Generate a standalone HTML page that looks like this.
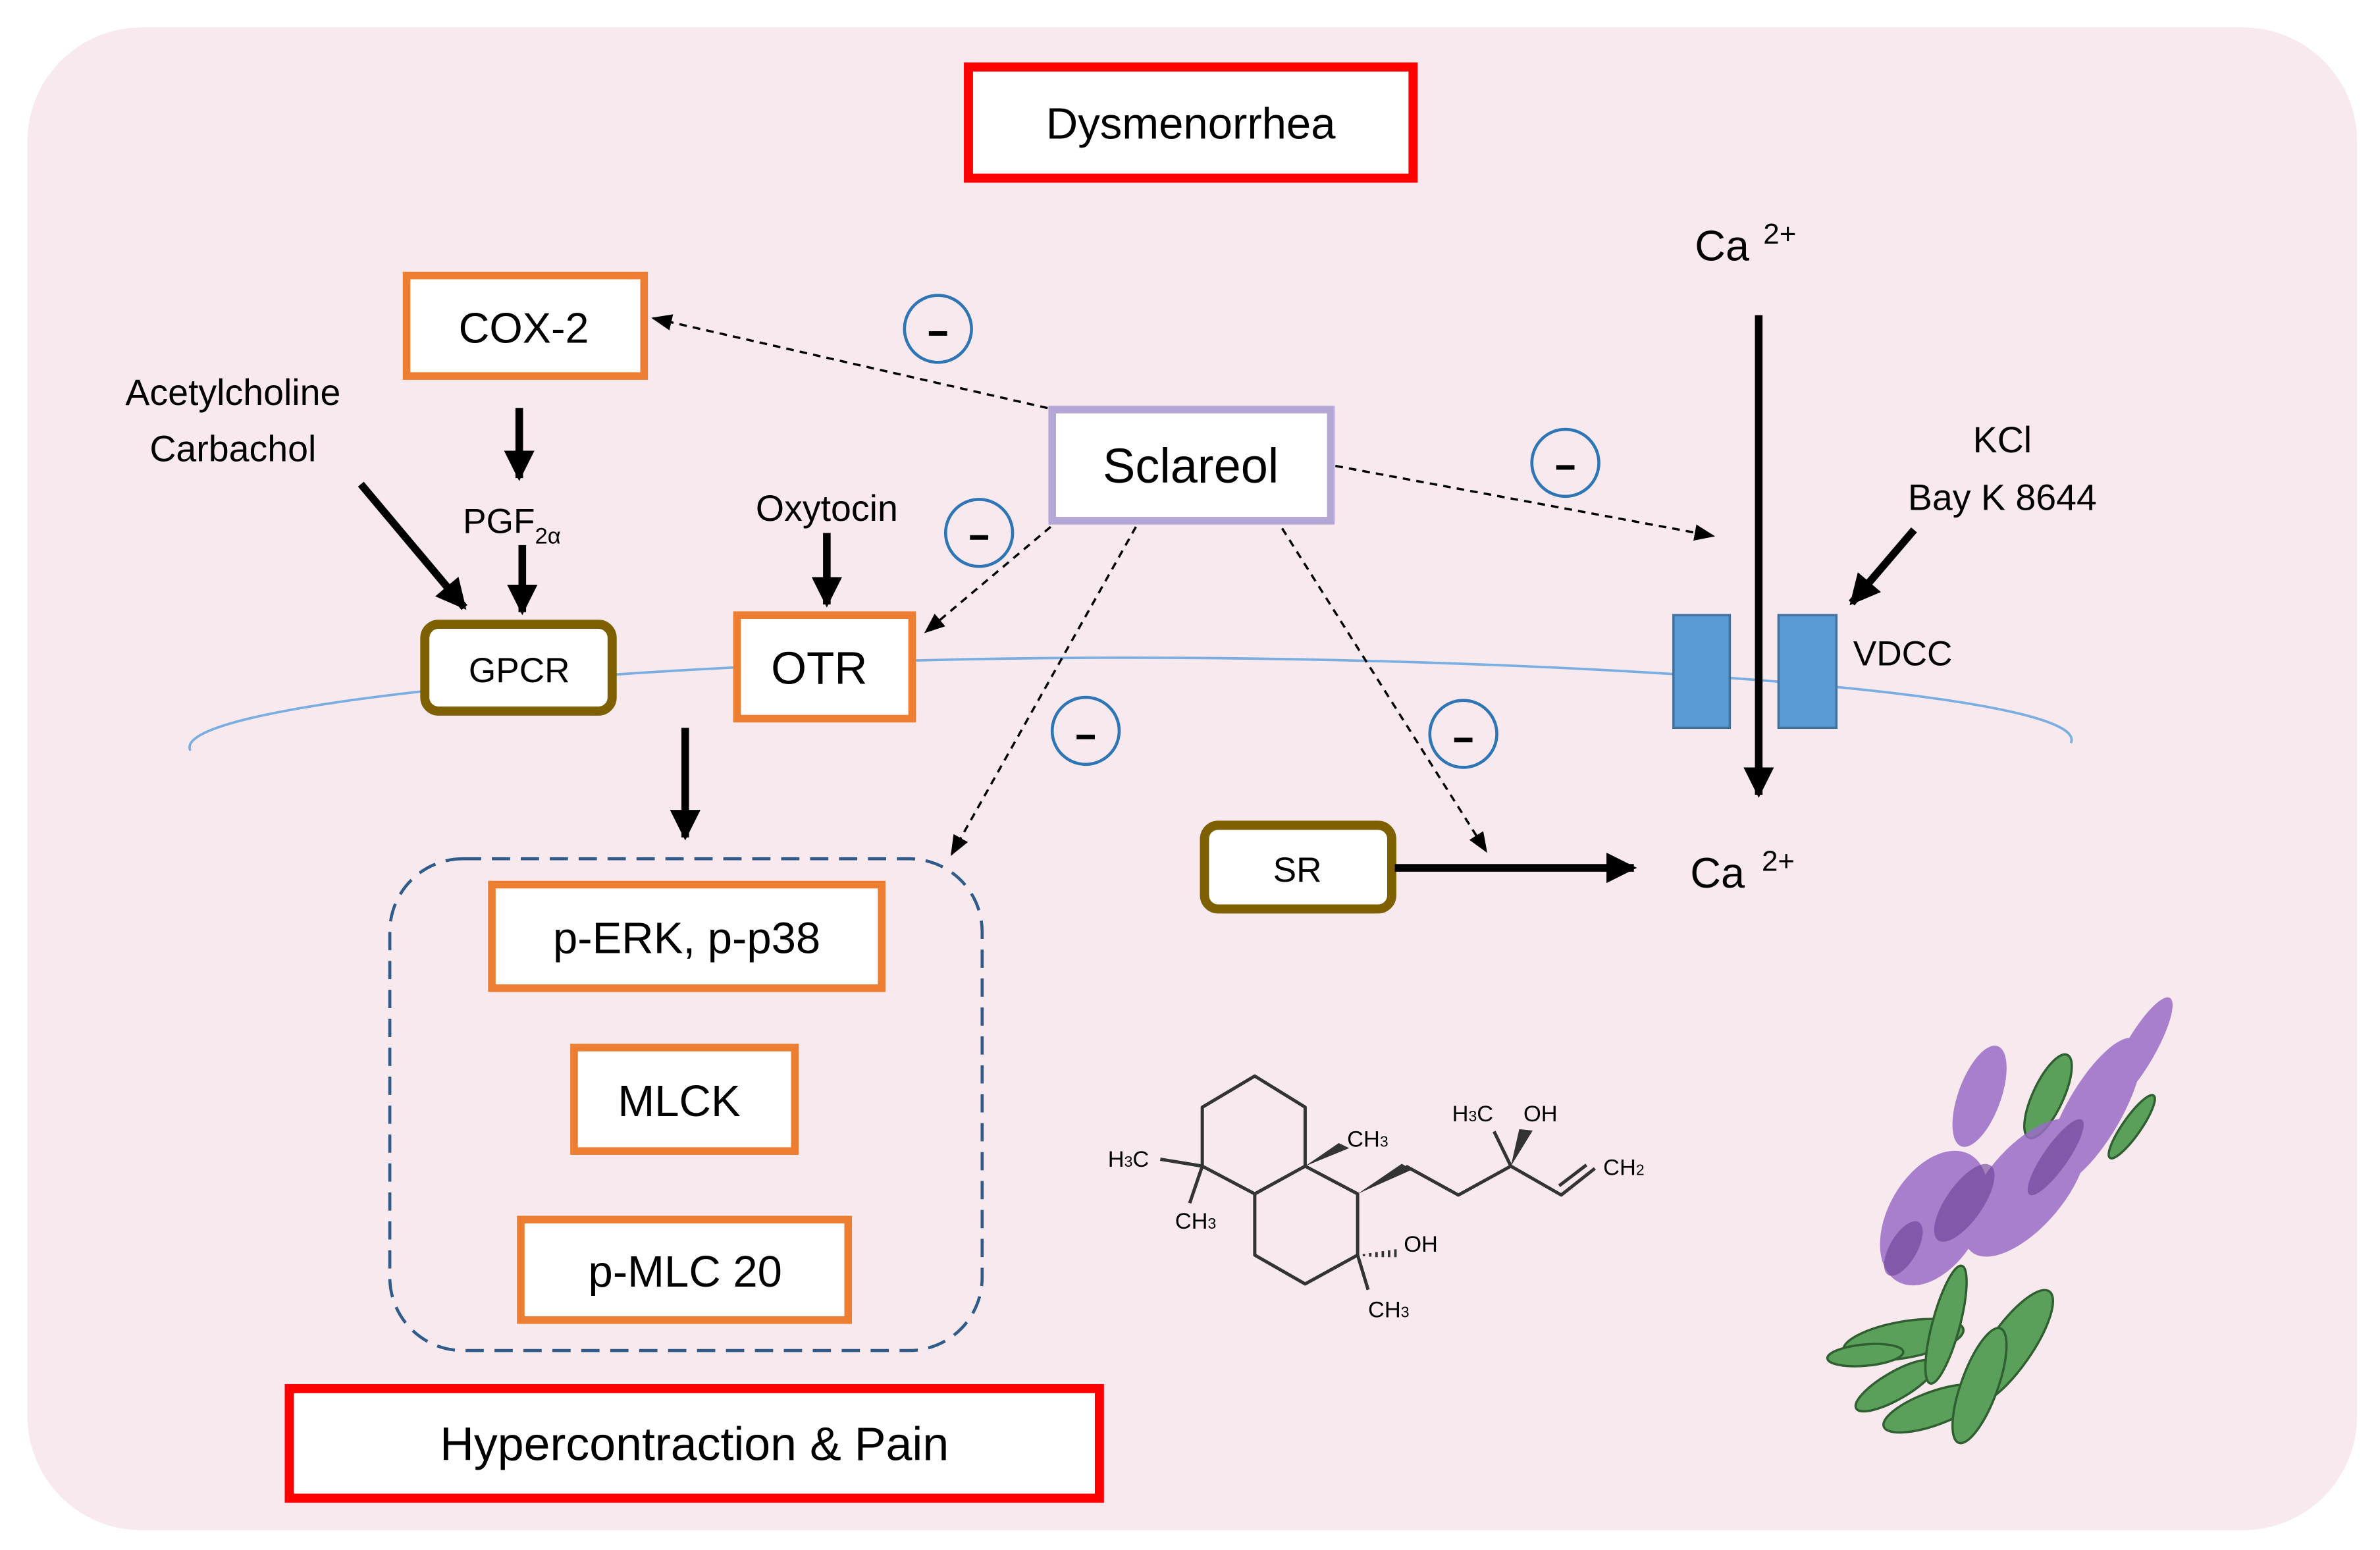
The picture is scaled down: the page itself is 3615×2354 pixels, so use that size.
<!DOCTYPE html>
<html><head><meta charset="utf-8"><style>html,body{margin:0;padding:0;background:#fff}svg{display:block}text{font-family:"Liberation Sans",sans-serif;fill:#000}</style></head><body>
<svg width="3615" height="2354" viewBox="0 0 1563 1018" preserveAspectRatio="none" xmlns="http://www.w3.org/2000/svg">
<defs>
<marker id="ah" viewBox="0 0 10 10" refX="9" refY="5" markerWidth="4" markerHeight="4" orient="auto"><path d="M0,0L10,5L0,10z" fill="#000"/></marker>
<marker id="ad" viewBox="0 0 10 10" refX="9" refY="5" markerWidth="9" markerHeight="9" orient="auto"><path d="M0,1L10,5L0,9z" fill="#000"/></marker>
</defs>
<rect x="18" y="18" width="1530" height="987" rx="75" fill="#f8e9ef"/>
<path d="M125,493 C110,462 420,433 720,432 C1030,431 1375,455 1360,488" fill="none" stroke="#7aaee0" stroke-width="1.6"/>
<rect x="636" y="44" width="292" height="73" fill="#fff" stroke="#ff0000" stroke-width="6"/>
<text x="782" y="91" font-size="29" text-anchor="middle">Dysmenorrhea</text>
<rect x="267" y="181" width="156" height="66" fill="#fff" stroke="#ed7d31" stroke-width="5"/>
<text x="344" y="225" font-size="28" text-anchor="middle">COX-2</text>
<rect x="691" y="269" width="183" height="73" fill="#fff" stroke="#b4a7d6" stroke-width="5"/>
<text x="782" y="317" font-size="32" text-anchor="middle">Sclareol</text>
<rect x="279" y="410" width="123" height="57" rx="9" fill="#fff" stroke="#7f6000" stroke-width="6"/>
<text x="341" y="448" font-size="23" text-anchor="middle">GPCR</text>
<rect x="484" y="404" width="115" height="68" fill="#fff" stroke="#ed7d31" stroke-width="5"/>
<text x="538" y="449" font-size="30" text-anchor="middle">OTR</text>
<rect x="791" y="542" width="123" height="55" rx="9" fill="#fff" stroke="#7f6000" stroke-width="6"/>
<text x="852" y="579" font-size="23" text-anchor="middle">SR</text>
<rect x="256" y="564" width="389" height="323" rx="48" fill="none" stroke="#2e5b8a" stroke-width="2" stroke-dasharray="12,7"/>
<rect x="323" y="581" width="256" height="68" fill="#fff" stroke="#ed7d31" stroke-width="5"/>
<text x="451" y="626" font-size="29" text-anchor="middle">p-ERK, p-p38</text>
<rect x="377" y="688" width="145" height="68" fill="#fff" stroke="#ed7d31" stroke-width="5"/>
<text x="446" y="733" font-size="29" text-anchor="middle">MLCK</text>
<rect x="342" y="801" width="215" height="66" fill="#fff" stroke="#ed7d31" stroke-width="5"/>
<text x="450" y="845" font-size="29" text-anchor="middle">p-MLC 20</text>
<rect x="190" y="912" width="532" height="72" fill="#fff" stroke="#ff0000" stroke-width="6"/>
<text x="456" y="959" font-size="31" text-anchor="middle">Hypercontraction  &amp; Pain</text>
<rect x="1099" y="404" width="37" height="74" fill="#5b9bd5" stroke="#41719c" stroke-width="1.5"/>
<rect x="1168" y="404" width="38" height="74" fill="#5b9bd5" stroke="#41719c" stroke-width="1.5"/>
<text x="1217" y="437" font-size="23">VDCC</text>
<text x="1113" y="171" font-size="28">Ca</text><text x="1158" y="160" font-size="19">2+</text>
<text x="1110" y="583" font-size="28">Ca</text><text x="1157" y="572" font-size="19">2+</text>
<text x="1315" y="297" font-size="24" text-anchor="middle">KCl</text>
<text x="1315" y="335" font-size="24" text-anchor="middle">Bay K 8644</text>
<text x="153" y="266" font-size="24" text-anchor="middle">Acetylcholine</text>
<text x="153" y="303" font-size="24" text-anchor="middle">Carbachol</text>
<text x="304" y="350" font-size="23">PGF<tspan font-size="15" dy="7">2α</tspan></text>
<text x="543" y="342" font-size="24" text-anchor="middle">Oxytocin</text>
<g stroke="#000" stroke-width="5" marker-end="url(#ah)">
<line x1="1155" y1="207" x2="1155" y2="522"/>
<line x1="916" y1="570" x2="1073" y2="570"/>
<line x1="1257" y1="348" x2="1216" y2="396"/>
<line x1="237" y1="318" x2="305" y2="399"/>
<line x1="341" y1="268" x2="341" y2="314"/>
<line x1="343" y1="358" x2="343" y2="402"/>
<line x1="543" y1="350" x2="543" y2="397"/>
<line x1="450" y1="478" x2="450" y2="550"/>
</g>
<g stroke="#000" stroke-width="1.5" stroke-dasharray="5,4" marker-end="url(#ad)">
<line x1="688" y1="268" x2="429" y2="209"/>
<line x1="877" y1="306" x2="1125" y2="352"/>
<line x1="690" y1="346" x2="608" y2="415"/>
<line x1="746" y1="346" x2="625" y2="561"/>
<line x1="842" y1="347" x2="976" y2="559"/>
</g>
<g fill="none" stroke="#2e75b6" stroke-width="2">
<circle cx="616" cy="216" r="22"/><circle cx="1028" cy="304" r="22"/><circle cx="643" cy="350" r="22"/><circle cx="713" cy="480" r="22"/><circle cx="961" cy="482" r="22"/>
</g>
<g stroke="#000" stroke-width="3">
<line x1="610" y1="219" x2="622" y2="219"/><line x1="1022" y1="307" x2="1034" y2="307"/><line x1="637" y1="353" x2="649" y2="353"/><line x1="707" y1="484" x2="719" y2="484"/><line x1="955" y1="486" x2="967" y2="486"/>
</g>
<!-- molecule -->
<svg x="691.7" y="670.3" width="432.3" height="237.8" viewBox="0 0 1568 862" preserveAspectRatio="none">
<g transform="scale(1,0.55)">
<g fill="none" stroke="#333" stroke-width="5" stroke-linejoin="round">
<path vector-effect="non-scaling-stroke" d="M480,240 L600,375 L600,630 L480,750 L355,630 L355,375 Z"/>
<path vector-effect="non-scaling-stroke" d="M600,630 L725,750 L725,1015 L600,1140 L480,1015 L480,750"/>
<path vector-effect="non-scaling-stroke" d="M255,600 L355,630 L325,790"/>
<path vector-effect="non-scaling-stroke" d="M840,630 L965,755 L1090,630 L1210,755 L1290,640"/>
<path vector-effect="non-scaling-stroke" d="M1205,715 L1270,625"/>
<path vector-effect="non-scaling-stroke" d="M1090,630 L1050,480"/>
<path vector-effect="non-scaling-stroke" d="M725,1015 L750,1165"/>
</g>
<g fill="#333">
<path d="M600,630 L680,530 L705,552 Z"/>
<path d="M725,750 L830,620 L855,645 Z"/>
<path d="M1090,630 L1110,470 L1142,476 Z"/>
</g>
<g stroke="#333" stroke-width="6"><path d="M740,1010v10M755,1006v16M770,1002v22M785,998v26M800,994v30M815,990v34"/></g>
</g>
<g font-size="54" fill="#222">
<text x="130" y="348">H<tspan font-size="36">3</tspan>C</text>
<text x="290" y="495">CH<tspan font-size="36">3</tspan></text>
<text x="700" y="300">CH<tspan font-size="36">3</tspan></text>
<text x="950" y="240">H<tspan font-size="36">3</tspan>C</text>
<text x="1120" y="240">OH</text>
<text x="1310" y="368">CH<tspan font-size="36">2</tspan></text>
<text x="835" y="550">OH</text>
<text x="750" y="706">CH<tspan font-size="36">3</tspan></text>
</g>
</svg>
<!-- plant -->
<g>
<g fill="#5aa05a" stroke="#2f5f30" stroke-width="1.5">
<ellipse cx="1250" cy="880" rx="40" ry="12" transform="rotate(-10 1250 880)"/>
<ellipse cx="1225" cy="890" rx="25" ry="7" transform="rotate(-5 1225 890)"/>
<ellipse cx="1320" cy="885" rx="45" ry="14" transform="rotate(-55 1320 885)"/>
<ellipse cx="1270" cy="925" rx="35" ry="11" transform="rotate(-20 1270 925)"/>
<ellipse cx="1245" cy="910" rx="30" ry="9" transform="rotate(-30 1245 910)"/>
<ellipse cx="1300" cy="910" rx="40" ry="12" transform="rotate(-70 1300 910)"/>
<ellipse cx="1278" cy="870" rx="40" ry="9" transform="rotate(-75 1278 870)"/>
<ellipse cx="1345" cy="720" rx="30" ry="10" transform="rotate(-65 1345 720)"/>
<ellipse cx="1400" cy="740" rx="25" ry="6" transform="rotate(-55 1400 740)"/>
</g>
<g fill="#9b6dc6" opacity="0.85">
<ellipse cx="1270" cy="800" rx="48" ry="30" transform="rotate(-60 1270 800)"/>
<ellipse cx="1330" cy="780" rx="55" ry="26" transform="rotate(-50 1330 780)"/>
<ellipse cx="1375" cy="730" rx="55" ry="18" transform="rotate(-60 1375 730)"/>
<ellipse cx="1405" cy="690" rx="40" ry="10" transform="rotate(-60 1405 690)"/>
<ellipse cx="1300" cy="720" rx="35" ry="14" transform="rotate(-70 1300 720)"/>
</g>
<g fill="#6a3f96" opacity="0.6">
<ellipse cx="1290" cy="790" rx="30" ry="12" transform="rotate(-55 1290 790)"/>
<ellipse cx="1350" cy="760" rx="30" ry="8" transform="rotate(-55 1350 760)"/>
<ellipse cx="1250" cy="820" rx="20" ry="9" transform="rotate(-60 1250 820)"/>
</g>
</g>
</svg>
</body></html>
